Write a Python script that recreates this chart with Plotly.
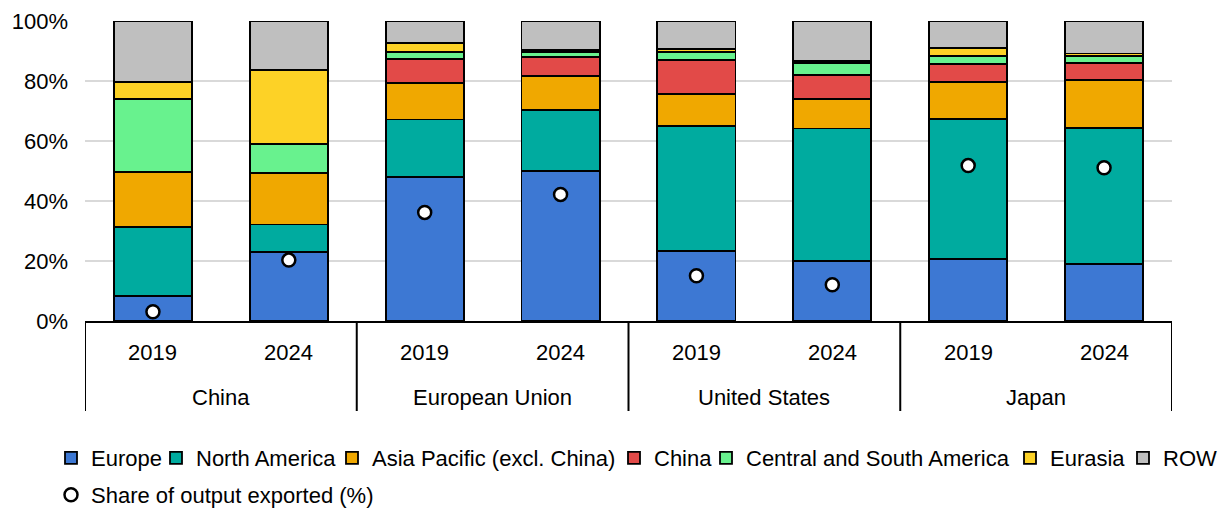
import plotly.graph_objects as go

# ---------------- data ----------------
group_names = ["China", "European Union", "United States", "Japan"]
year_labels = ["2019", "2024"]
groups = [g for g in group_names for _ in year_labels]
years = [y for _ in group_names for y in year_labels]

series_names = ["Europe", "North America", "Asia Pacific (excl. China)", "China",
                "Central and South America", "Eurasia", "ROW"]
europe = [8.3, 23.1, 48.1, 50.1, 23.3, 20.1, 20.6, 18.9]
north_america = [23.1, 9.1, 19.1, 20.2, 41.8, 44.1, 46.7, 45.5]
asia_pacific = [18.4, 17.2, 12.2, 11.4, 10.6, 9.8, 12.4, 15.9]
china = [0.0, 0.0, 7.9, 6.2, 11.3, 8.0, 6.1, 5.8]
central_south_america = [24.1, 9.5, 2.5, 1.7, 2.8, 4.1, 2.6, 2.2]
eurasia = [5.8, 24.8, 2.8, 0.7, 0.8, 0.6, 2.6, 0.9]
row = [20.3, 16.3, 7.4, 9.7, 9.4, 13.3, 9.0, 10.8]
share_exported = [3.1, 20.3, 36.2, 42.2, 15.1, 12.1, 51.8, 51.1]
share_name = "Share of output exported (%)"

y_tickvals = [0, 20, 40, 60, 80, 100]
y_ticktext = ["0%", "20%", "40%", "60%", "80%", "100%"]

# ---------------- style ----------------
colors = ["#3D78D3", "#00AB9F", "#F0A800", "#E24A48", "#68F28E", "#FDD226", "#BFBFBF"]
series_values = [europe, north_america, asia_pacific, china,
                 central_south_america, eurasia, row]
FONT = "Liberation Sans, Arial, sans-serif"
FS = 22
W, H = 1221, 510
ML, MR, MT, MB = 85, 49, 21, 189
PW, PH = W - ML - MR, H - MT - MB

def px_to_paper_x(px):
    return (px - ML) / PW

def px_to_paper_y(py):
    return (H - MB - py) / PH

cats = [f"{g} {y}" for g, y in zip(groups, years)]

fig = go.Figure()
legend_left_px = [51, 156, 332, 614, 706, 1010, 1123]
for i, (name, vals, col) in enumerate(zip(series_names, series_values, colors)):
    lg = "legend" if i == 0 else f"legend{i + 1}"
    fig.add_trace(go.Bar(
        x=cats, y=vals, name=name, legend=lg,
        marker=dict(color=col, line=dict(color="black", width=1.8)),
    ))

fig.add_trace(go.Scatter(
    x=cats, y=share_exported, name=share_name, legend="legend8",
    mode="markers",
    marker=dict(symbol="circle", size=13, color="white",
                line=dict(color="black", width=2.5)),
))

legend_common = dict(orientation="h", xanchor="left", yanchor="middle",
                     font=dict(size=FS, family=FONT), bgcolor="rgba(0,0,0,0)",
                     borderwidth=0)
layout_legends = {}
for i, lx in enumerate(legend_left_px):
    key = "legend" if i == 0 else f"legend{i + 1}"
    layout_legends[key] = dict(x=px_to_paper_x(lx), y=px_to_paper_y(458), **legend_common)
layout_legends["legend8"] = dict(x=px_to_paper_x(51), y=px_to_paper_y(495), **legend_common)

# category axis annotations and dividers
annotations = []
for i, yl in enumerate(years):
    annotations.append(dict(x=i, y=px_to_paper_y(352), xref="x", yref="paper",
                            text=yl, showarrow=False, xanchor="center", yanchor="middle",
                            font=dict(size=FS, family=FONT, color="black")))
n_per = len(year_labels)
for gi, g in enumerate(group_names):
    annotations.append(dict(x=gi * n_per + (n_per - 1) / 2, y=px_to_paper_y(397),
                            xref="x", yref="paper", text=g, showarrow=False,
                            xanchor="center", yanchor="middle",
                            font=dict(size=FS, family=FONT, color="black")))
shapes = []
for gi in range(len(group_names) + 1):
    xb = gi * n_per - 0.5
    shapes.append(dict(type="line", xref="x", yref="paper", x0=xb, x1=xb,
                       y0=0, y1=px_to_paper_y(411),
                       line=dict(color="black", width=2)))

fig.update_layout(
    barmode="stack",
    bargap=0.425,
    width=W, height=H,
    margin=dict(l=ML, r=MR, t=MT, b=MB, autoexpand=False),
    plot_bgcolor="white", paper_bgcolor="white",
    font=dict(family=FONT, size=FS, color="black"),
    showlegend=True,
    annotations=annotations,
    shapes=shapes,
    **layout_legends,
)

fig.update_yaxes(
    range=[0, 100], tickmode="array", tickvals=y_tickvals, ticktext=y_ticktext,
    showgrid=True, gridcolor="#D9D9D9", gridwidth=1.5,
    zeroline=False, showline=False, ticks="", ticklabelstandoff=16,
    tickfont=dict(size=FS, family=FONT), automargin=False,
)
fig.update_xaxes(
    type="category", range=[-0.5, len(cats) - 0.5],
    showline=True, linecolor="black", linewidth=2,
    showticklabels=False, ticks="", showgrid=False, automargin=False,
)

fig.write_html("out.html")
